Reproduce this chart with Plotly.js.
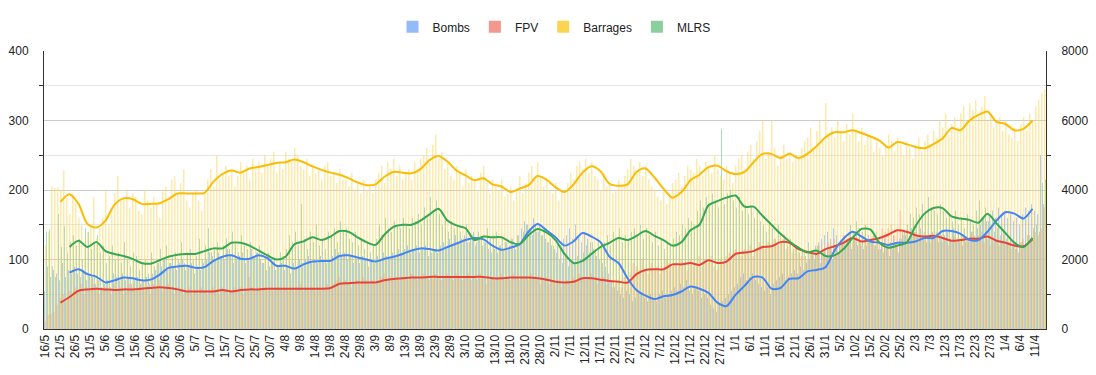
<!DOCTYPE html>
<html>
<head>
<meta charset="utf-8">
<script src="https://cdn.plot.ly/plotly-3.0.1.min.js"></script>
<style>
html,body{margin:0;padding:0;background:#fff;}
#chart{width:1096px;height:375px;}
#chart .trace.bars path{shape-rendering:geometricPrecision !important;}
</style>
</head>
<body>
<div id="chart"></div>
<script>
// Categories: daily dates 16/5/2024 .. 14/4/2025
const startDate = Date.UTC(2024, 4, 16);
const dayCount = 334;
const dates = [];
for (let i = 0; i < dayCount; i++) {
  const d = new Date(startDate + i * 86400000);
  dates.push(d.getUTCDate() + '/' + (d.getUTCMonth() + 1));
}
const tickLabels = dates.filter((_, i) => i % 5 === 0);

// Daily values (left axis)
const bombs = [
55,90,75,85,80,70,95,75,85,80, 90,80,75,85,70,80,75,65,70,60,
65,70,60,80,75,70,80,70,75,65, 70,75,65,70,75,65,80,85,95,90,
100,85,95,90,85,95,100,85,90,95, 80,90,85,95,100,110,105,100,110,105,
100,115,105,95,100,105,110,95,100,115, 105,110,100,95,85,90,95,85,90,95,
85,90,80,95,90,100,95,100,105,95, 100,95,105,100,95,100,105,115,110,105,
110,100,105,95,100,95,105,100,90,100, 95,105,100,110,105,100,110,105,115,110,
115,120,110,115,120,110,115,120,105,110, 115,110,120,125,115,130,120,135,125,130,
135,125,130,140,125,130,120,125,115,110, 115,110,120,115,125,120,130,115,135,145,
155,150,145,160,140,150,135,130,125,120, 115,125,120,130,135,145,130,150,135,125,
140,130,125,115,105,100,95,90,80,70, 60,55,50,45,55,50,40,45,55,50,
45,40,50,45,40,50,55,45,50,55, 60,55,65,60,70,55,50,60,55,45,
50,45,35,30,25,35,40,45,50,55, 60,65,75,80,70,75,80,70,65,60,
55,60,50,65,70,75,80,70,75,80, 85,80,90,85,95,100,110,120,125,130,
135,140,130,145,135,125,130,120,125,115, 130,120,125,115,120,130,125,120,115,125,
130,120,125,135,125,130,140,135,130,145, 140,135,145,130,125,135,140,130,125,135,
135,140,130,145,125,130,120,125,130,140, 135,145,150,160,155,165,170,160,175,165,
170,160,165,155,160,150,165,175,170,180, 170,165,250,180];

const mlrs = [
140,143,90,75,165,118,148,110,125,135, 120,130,100,145,140,115,125,135,110,120,
95,105,120,100,110,95,125,100,90,110, 105,85,95,100,80,110,90,95,115,100,
120,95,105,110,100,125,95,110,115,100, 105,130,100,120,145,110,115,125,105,120,
130,115,140,125,110,135,120,115,125,105, 110,120,95,105,110,95,100,90,110,105,
115,135,125,140,120,180,130,115,140,125, 150,120,130,115,140,135,145,125,155,140,
145,130,125,140,120,130,115,125,110,120, 130,150,135,160,145,140,155,150,145,160,
150,145,160,155,165,150,175,160,190,170, 185,165,150,160,140,155,145,150,140,130,
150,125,135,120,140,130,125,145,130,135, 140,120,130,125,115,130,120,135,125,140,
150,145,135,150,140,135,145,125,130,120, 110,100,95,105,90,100,95,105,100,110,
120,110,125,115,130,120,125,135,120,140, 130,145,125,135,130,140,145,135,150,130,
145,135,125,140,120,130,115,125,120,130, 140,135,150,145,160,155,150,170,185,175,
190,180,195,185,175,288,180,195,200,185, 175,190,170,180,165,175,160,170,155,150,
140,155,145,130,150,125,135,120,130,115, 120,110,115,105,125,110,100,120,95,110,
105,115,100,120,110,125,135,130,150,140, 155,145,140,150,135,130,120,125,115,110,
120,105,115,125,110,130,140,150,165,160, 175,165,180,170,190,175,170,165,180,170,
160,165,155,170,150,160,145,165,155,150, 170,185,160,175,155,150,140,145,135,140,
130,125,120,115,110,125,120,135,130,145, 150,140,210,215];

// Daily values (right axis)
const fpv = [
240,400,440,500,700,900,1000,800,1100,1000, 1200,1100,1300,1000,1200,1100,1300,1200,1000,1100,
1200,1100,1000,1300,1100,1200,1000,1100,1300,1200, 1100,1200,1300,1100,1200,1000,1300,1200,1400,1100,
1200,1300,1100,1000,1200,1100,1000,1100,1200,1000, 1100,1000,1200,1100,1000,1100,1200,1100,1000,1200,
1100,1000,1100,1200,1100,1200,1000,1100,1500,1200, 1100,1200,1100,1200,1100,1200,1100,1200,1200,1100,
1200,1100,1200,1100,1200,1300,1100,1200,1100,1200, 1100,1200,1100,1200,1300,1200,1300,1400,1500,1300,
1400,1300,1200,1300,1400,1300,1500,1400,1300,1400, 1300,1400,1500,1600,1400,1500,1400,1500,1400,1500,
1500,1400,1600,1500,1400,1500,1600,1500,1400,1500, 1600,1500,1400,1500,1600,1500,1400,1600,1500,1400,
1500,1600,1400,1500,1400,1600,1500,1300,1400,1500, 1400,1500,1600,1400,1500,1400,1600,1500,1400,1500,
1500,1400,1600,1500,1400,1300,1400,1500,1300,1400, 1300,1400,1200,1300,1400,1300,1500,1400,1600,1500,
1400,1500,1600,1400,1300,1400,1500,1300,1400,1200, 1300,1400,1200,1500,1400,1600,1900,1800,1700,2000,
1700,1600,1900,1700,1800,1600,1700,2000,1900,1800, 1900,1800,2000,1900,1700,2000,1800,1900,2100,1800,
2000,1900,2100,1800,1700,2000,1900,2100,2200,2000, 2300,2200,2100,2300,2200,2400,2100,2300,2500,2400,
2300,2500,2400,2600,2500,2700,2600,2300,2400,2200, 2300,2200,2100,2300,2000,2200,2100,2300,2400,2200,
2300,2500,2400,2600,2300,2500,2700,2600,2800,2500, 2600,2500,2400,2700,2600,2500,2700,2800,2600,2900,
2800,2900,3000,2700,2800,3400,2700,2800,2600,2700, 2800,2700,2600,2800,2700,2500,2600,2800,2700,2500,
2600,2400,2500,2700,2600,2500,2700,2600,2500,2800, 2600,2700,2800,2500,2600,2400,2500,2600,2400,2500,
2400,2500,2300,2400,2300,2500,2600,2400,2700,2600, 2800,2700,2900,3500];

const barrages = [
2400,2800,4100,4060,4080,4000,4560,3760,3300,3900, 3600,3200,3000,2500,2800,3000,3800,2600,2900,3200,
4000,3000,3500,3900,4400,3700,3800,4000,3500,3900, 3800,3400,3300,4000,3700,3500,3800,3600,3200,4000,
4100,3700,4300,4400,3900,4200,4600,3700,3500,3900, 4000,3700,3400,3900,4300,4600,4100,5000,4300,4500,
4700,4400,4600,4100,4400,4800,4500,4700,4300,4900, 4600,4800,4500,5000,4700,4900,5100,4500,4800,4600,
5100,4900,4800,5200,5000,4700,4600,4900,4400,4700, 4500,4600,4300,4700,4800,4400,4500,4200,4600,4300,
4300,4100,4500,4000,4200,3900,4300,4000,4100,3900, 4300,4500,4700,4200,4800,4600,4900,4400,4700,4300,
4500,4600,4300,4800,4600,4900,5000,5200,4800,5300, 5600,4900,5100,4600,4800,4400,4300,4700,4500,4100,
4600,4200,4400,4300,4000,4500,4700,4200,3900,4300, 4100,4000,4300,3800,3900,4100,3700,4000,4400,3900,
4200,4500,4700,4300,4800,4400,4100,4300,4000,3900, 4200,3700,4000,3900,4200,4500,4300,4700,4800,4600,
4900,4500,4800,4400,4300,4000,4500,4100,4200,3900, 4000,4300,4100,4400,4600,4900,4700,4500,4800,4400,
4700,4300,4100,4000,3800,3700,4000,3600,3900,4200, 4300,4500,4100,4400,4700,4600,4500,4900,4700,4400,
4800,4700,4500,5000,4600,4400,4300,4700,4500,4200, 4700,4900,5000,4600,5100,5300,4900,5400,5700,6000,
4900,5100,6000,5200,4700,5000,5300,4900,5100,4800, 5000,4900,5200,5400,5500,5800,5200,5700,6000,5400,
6500,5600,5800,5500,6000,5700,5400,5900,5600,6200, 5700,5400,5800,5300,5600,5500,5100,5400,5200,5000,
5300,5600,5400,5100,5500,5300,5000,5400,5200,4900, 5300,5500,5100,5400,5600,5300,5700,5500,6000,5800,
6200,5600,5900,6100,5800,6200,6400,6000,6500,6300, 6600,6100,6400,6700,6000,6200,5800,5900,6100,5700,
6000,5600,5500,5800,5400,5900,6100,5700,6200,6000, 6400,6600,6800,6900];

// Moving averages, read every 3 days from 21/5 to 9/4
const avgDates = dates.filter((_, i) => i >= 5 && i <= 329 && (i - 5) % 3 === 0);
const bombsAvg = [null,81,86,79,75,67,70,74,73,70, 71,78,88,90,91,88,89,98,104,106,
101,101,106,102,91,91,87,93,97,98, 98,105,106,103,100,97,101,104,108,113,
116,115,113,118,123,128,131,129,120,114, 117,122,140,151,142,132,120,126,138,133,
125,104,95,73,56,48,43,47,49,54, 61,58,52,38,33,49,62,75,74,58,
59,72,73,83,85,89,113,130,140,133, 126,124,121,124,124,126,131,131,141,141,
137,128,128,140,156,168,166,159,173];
const mlrsAvg = [null,118,127,118,125,112,108,105,101,95, 94,99,104,107,108,108,112,116,116,124,
124,120,113,106,100,104,122,126,132,128, 133,141,140,132,125,121,136,147,150,150,
156,165,173,156,149,145,128,133,132,132, 125,122,135,144,139,128,108,95,98,108,
118,124,131,128,134,141,134,128,120,125, 142,150,178,184,189,192,176,176,163,150,
137,126,117,110,113,105,106,115,131,144, 143,124,117,120,124,148,166,174,174,162,
159,157,153,166,152,138,124,118,131];
const fpvAvg = [760,920,1100,1140,1160,1140,1120,1140,1140,1160, 1180,1200,1180,1140,1080,1080,1080,1080,1120,1080,
1120,1140,1140,1160,1160,1160,1160,1160,1160,1160, 1180,1300,1320,1340,1340,1340,1400,1440,1460,1480,
1480,1500,1500,1500,1500,1500,1500,1500,1460,1460, 1480,1480,1480,1460,1420,1360,1340,1360,1460,1460,
1420,1380,1360,1340,1580,1700,1720,1720,1860,1860, 1900,1840,1980,1900,1940,2160,2200,2240,2360,2380,
2500,2480,2300,2220,2160,2300,2380,2480,2620,2520, 2560,2620,2720,2840,2800,2700,2660,2680,2620,2540,
2560,2600,2600,2660,2540,2480,2400,2380,2580];
const barragesAvg = [3660,3880,3600,3020,2920,3120,3580,3760,3740,3600, 3600,3620,3740,3900,3900,3900,3920,4240,4460,4560,
4500,4620,4660,4720,4780,4800,4880,4800,4680,4580, 4500,4440,4340,4220,4140,4160,4380,4520,4500,4480,
4600,4860,4980,4820,4560,4420,4280,4340,4160,4100, 3940,4040,4140,4400,4300,4080,3940,4160,4500,4680,
4540,4180,4120,4160,4520,4620,4360,4040,3780,3940, 4280,4440,4660,4700,4540,4460,4520,4800,5040,5040,
4920,5040,4920,5040,5260,5520,5660,5660,5720,5640, 5540,5420,5220,5380,5320,5240,5200,5320,5480,5780,
5720,6000,6160,6260,5960,5900,5720,5760,6000];

const seriesNames = ['Bombs', 'FPV', 'Barrages', 'MLRS'];
const lineColors = ['#4285F4', '#EA4335', '#FBBC04', '#34A853'];
const barColors = ['#94bbf8', '#f3978f', '#fdd352', '#8ccf9f'];
const barData = [bombs, fpv, barrages, mlrs];
const lineData = [bombsAvg, fpvAvg, barragesAvg, mlrsAvg];
const barAxis = ['y', 'y2', 'y2', 'y'];
// left-axis averages are drawn on a hidden copy of the left axis so they stay above all bars
const lineAxis = ['y3', 'y2', 'y2', 'y3'];

const traces = [];
seriesNames.forEach((name, k) => {
  traces.push({
    type: 'bar', name: name, x: dates, y: barData[k], yaxis: barAxis[k],
    marker: {color: barColors[k], line: {width: 0}},
    alignmentgroup: 'days', offsetgroup: String(k), hoverinfo: 'x+y+name'
  });
});
seriesNames.forEach((name, k) => {
  traces.push({
    type: 'scatter', mode: 'lines', name: name + ' avg', x: avgDates, y: lineData[k], yaxis: lineAxis[k],
    line: {color: lineColors[k], width: 2, shape: 'spline', smoothing: 0.8}, showlegend: false, hoverinfo: 'skip'
  });
});

const font = {family: '"Liberation Sans", Arial, sans-serif', size: 12, color: '#222222'};
const layout = {
  width: 1096, height: 375,
  margin: {l: 44, r: 50, t: 42, b: 46, pad: 0},
  paper_bgcolor: '#ffffff', plot_bgcolor: '#ffffff',
  font: font,
  barmode: 'group', bargap: 0.0, bargroupgap: 0,
  showlegend: true,
  legend: {orientation: 'h', x: 0.509, xanchor: 'center', y: 1.087, yanchor: 'middle',
           font: {family: font.family, size: 12, color: '#222222'}, itemwidth: 30, traceorder: 'normal'},
  xaxis: {
    type: 'category', categoryorder: 'array', categoryarray: dates,
    range: [-0.5, dayCount - 0.5],
    tickmode: 'array', tickvals: tickLabels, ticktext: tickLabels,
    tickangle: -90, ticks: '', showgrid: false, zeroline: false,
    showline: true, linecolor: '#333333', linewidth: 1,
    tickfont: {family: font.family, size: 12, color: '#222222'}
  },
  yaxis: {
    range: [0, 400], dtick: 100, tick0: 0, ticks: '',
    showgrid: true, gridcolor: '#cccccc', gridwidth: 1, zeroline: false,
    showline: true, linecolor: '#333333', linewidth: 1,
    ticklabelstandoff: 12,
    minor: {dtick: 50, tick0: 0, showgrid: true, gridcolor: '#e6e6e6', ticks: 'outside', ticklen: 4, tickcolor: '#333333'},
    tickfont: {family: font.family, size: 12, color: '#222222'}
  },
  yaxis2: {
    overlaying: 'y', side: 'right', anchor: 'x',
    range: [0, 8000], dtick: 2000, tick0: 0, ticks: '',
    showgrid: false, zeroline: false,
    showline: true, linecolor: '#333333', linewidth: 1,
    ticklabelstandoff: 12,
    minor: {dtick: 1000, tick0: 0, showgrid: false, ticks: 'outside', ticklen: 4, tickcolor: '#333333'},
    tickfont: {family: font.family, size: 12, color: '#222222'}
  },
  yaxis3: {
    overlaying: 'y', anchor: 'x', range: [0, 400], visible: false,
    showgrid: false, zeroline: false, showticklabels: false
  }
};

Plotly.newPlot('chart', traces, layout, {displayModeBar: false, staticPlot: true});
</script>
</body>
</html>
